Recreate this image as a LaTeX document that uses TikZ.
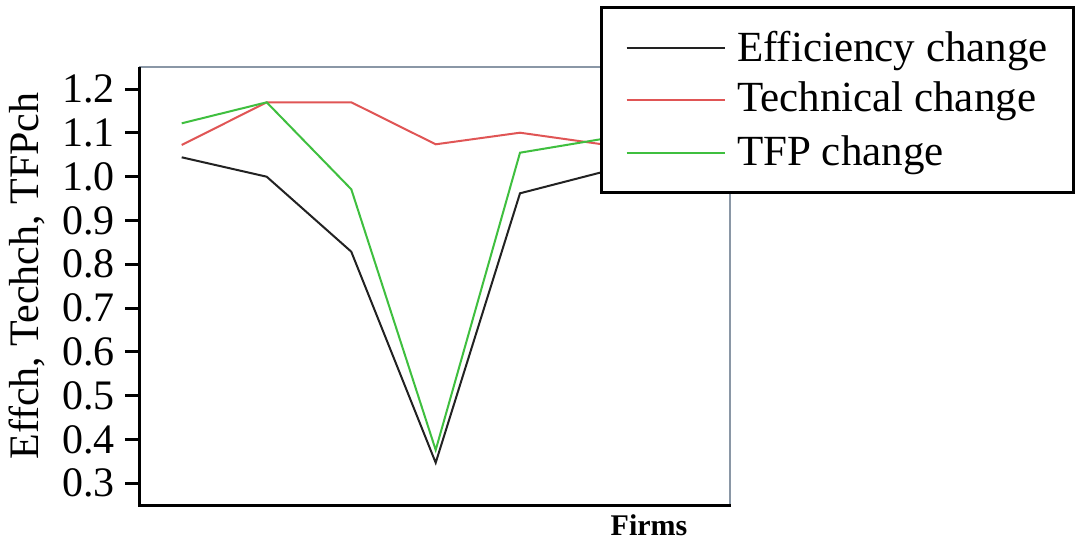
\documentclass[tikz,border=0pt]{standalone}
\usepackage{fontspec}
\setmainfont{Liberation Serif}
\definecolor{framegray}{HTML}{8A97A6}
\definecolor{serred}{HTML}{E05555}
\definecolor{sergreen}{HTML}{3FBF3F}
\definecolor{serblack}{HTML}{222222}
\begin{document}
\begin{tikzpicture}[x=0.5pt,y=-0.5pt,
  axisline/.style={line width=1.5pt, black},
  frameline/.style={line width=1pt, framegray},
  series/.style={line width=1pt, line join=miter},
  ticklab/.style={anchor=east, inner sep=0pt, font=\fontsize{21}{21}\selectfont},
  legtext/.style={anchor=base west, inner sep=0pt, font=\fontsize{21.5}{21.5}\selectfont},
  legbox/.style={draw=black, fill=white, line width=1.5pt}]
\useasboundingbox (0,0) rectangle (1075,542);
\fill[white] (0,0) rectangle (1075,542);

% plot frame
\draw[frameline] (139,67) -- (730,67) -- (730,505);
\draw[axisline] (139,67) -- (139,505) -- (731,505);

% ticks and labels
\foreach \v [count=\i from 0] in {1.2,1.1,1.0,0.9,0.8,0.7,0.6,0.5,0.4,0.3}{
  \pgfmathsetmacro{\yy}{89+43.8*\i}
  \draw[axisline] (125,\yy) -- (139,\yy);
  \node[ticklab] (t\i) at (115,\yy) {\v};
}

% axis titles
\node[rotate=90, inner sep=0pt, font=\fontsize{21}{21}\selectfont] (ylab) at (27,276) {Effch, Techch, TFPch};
\node[anchor=base, inner sep=0pt, font=\bfseries\fontsize{15}{15}\selectfont] (xlab) at (649,535) {Firms};

% series
\draw[series, serred] (181.7,145) -- (266.7,102.3) -- (351.3,102.3) -- (435.7,144.3) -- (520,132.7) -- (604.5,144.6) -- (689,140);
\draw[series, sergreen] (181.7,123.3) -- (266.7,102.3) -- (351.3,189.3) -- (435.7,450) -- (520,152.7) -- (604.5,138.6) -- (689,135);
\draw[series, serblack] (181.7,157.3) -- (266.7,176.7) -- (351.3,251.7) -- (435.7,462.7) -- (520,193.3) -- (604.5,171.5) -- (689,165);

% legend
\draw[legbox] (601.7,7.3) rectangle (1073,192.7);
\draw[series, serblack] (626.7,48.3) -- (725,48.3);
\draw[series, serred] (626.7,100) -- (725,100);
\draw[series, sergreen] (626.7,153.3) -- (725,153.3);
\node[legtext] (l1) at (736.7,61.7) {Efficiency change};
\node[legtext] (l2) at (736.7,111.7) {Technical change};
\node[legtext] (l3) at (736.7,165.7) {TFP change};
\end{tikzpicture}
\end{document}
